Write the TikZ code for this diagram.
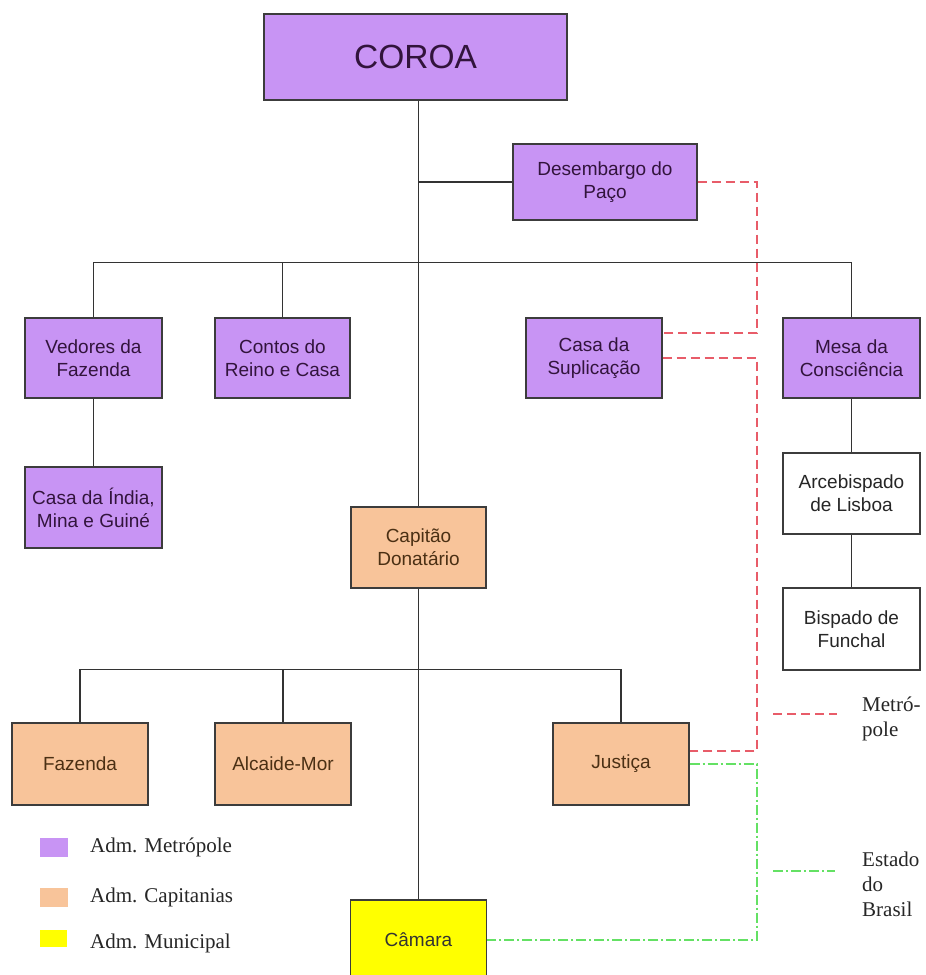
\documentclass[tikz,border=0pt]{standalone}
\usepackage{fontspec}
\setmainfont{Liberation Serif}
\setsansfont{Liberation Sans}
\usetikzlibrary{calc}
\definecolor{purp}{RGB}{200,148,244}
\definecolor{peach}{RGB}{248,196,154}
\definecolor{yel}{RGB}{255,255,0}
\definecolor{bord}{RGB}{60,60,60}
\definecolor{ptext}{RGB}{50,20,60}
\definecolor{otext}{RGB}{75,48,20}
\definecolor{reddash}{RGB}{232,92,105}
\definecolor{greendash}{RGB}{100,225,100}
\tikzset{
  box/.style={draw=bord, line width=1.4pt, rectangle, align=center, inner sep=0pt,
    font=\sffamily\fontsize{19}{23}\selectfont},
  pbox/.style={box, fill=purp, text=ptext},
  obox/.style={box, fill=peach, text=otext},
  wbox/.style={box, fill=white, text=black!85},
  ybox/.style={box, fill=yel, text=black!80},
  conn/.style={draw=black!80, line width=1.5pt},
  redline/.style={draw=reddash, line width=1.8pt, dash pattern=on 9pt off 5pt},
  greenline/.style={draw=greendash, line width=1.6pt, dash pattern=on 10pt off 3pt on 2pt off 3pt},
  legtext/.style={font=\fontsize{21}{25}\selectfont, text=black!85, inner sep=0pt, align=left},
}
\begin{document}
\begin{tikzpicture}[x=1pt, y=-1pt]
\useasboundingbox[fill=white] (0,0) rectangle (926,975);

% nodes
\node[pbox, minimum width=303pt, minimum height=86pt, font=\sffamily\fontsize{33.5}{38}\selectfont] (coroa) at (415.5,57) {COROA};
\node[pbox, minimum width=184pt, minimum height=76pt] (desemb) at (605,182) {Desembargo do\\Paço};
\node[pbox, minimum width=137pt, minimum height=80pt] (vedores) at (93.5,358) {Vedores da\\Fazenda};
\node[pbox, minimum width=135pt, minimum height=80pt] (contos) at (282.5,358) {Contos do\\Reino e Casa};
\node[pbox, minimum width=136pt, minimum height=80pt] (supl) at (594,358) {Casa da\\Suplicação};
\node[pbox, minimum width=137pt, minimum height=80pt] (mesa) at (851.5,358) {Mesa da\\Consciência};
\node[pbox, minimum width=137pt, minimum height=81pt] (india) at (93.5,507.5) {Casa da Índia,\\Mina e Guiné};
\node[wbox, minimum width=137pt, minimum height=81pt] (arce) at (851.5,493.5) {Arcebispado\\de Lisboa};
\node[wbox, minimum width=137pt, minimum height=82pt] (bisp) at (851.5,629) {Bispado de\\Funchal};
\node[obox, minimum width=135pt, minimum height=81pt] (cap) at (418.5,547.5) {Capitão\\Donatário};
\node[obox, minimum width=136pt, minimum height=82pt] (faz) at (80,764) {Fazenda};
\node[obox, minimum width=136pt, minimum height=82pt] (alc) at (283,764) {Alcaide-Mor};
\node[obox, minimum width=136pt, minimum height=82pt] (just) at (621,764) {Justiça};
\node[ybox, minimum width=136pt, minimum height=80pt] (camara) at (418.5,940) {Câmara};

% tree connectors
\draw[conn] (coroa.south -| cap.north) -- (cap.north);
\draw[conn] (cap.south) -- (camara.north);
\draw[conn] (desemb.west) -- (desemb.west -| cap.north);
\draw[conn] (vedores.north) -- ++(0,-55) -| (mesa.north);
\draw[conn] (contos.north) -- ++(0,-55);
\draw[conn] (vedores.south) -- (india.north);
\draw[conn] (mesa.south) -- (arce.north);
\draw[conn] (arce.south) -- (bisp.north);
\draw[conn] (faz.north) -- ++(0,-53) -| (just.north);
\draw[conn] (alc.north) -- ++(0,-53);

% dashed relations
\coordinate (rA) at (757,333);
\coordinate (rB) at (757,751);
\coordinate (gA) at (757,940);
\draw[redline] (desemb.east) -| (rA) -- ($(supl.east)+(0,-25)$);
\draw[redline] (supl.east) -| (rB) -- ($(just.east)+(0,-13)$);
\draw[greenline] (just.east) -| (gA) -- (camara.east);

% legend (lines)
\coordinate (lr1) at (773,714);
\coordinate (lr2) at (837,714);
\draw[redline] (lr1) -- (lr2);
\node[legtext, anchor=north west] (lmet) at (862,697) {Metró-\\pole};
\coordinate (lg1) at (773,871);
\coordinate (lg2) at (835,871);
\draw[greenline] (lg1) -- (lg2);
\node[legtext, anchor=north west] (lest) at (862,852) {Estado\\do\\Brasil};

% legend (colours)
\node[fill=purp, minimum width=28pt, minimum height=19pt, inner sep=0pt] (sq1) at (54,847.5) {};
\node[fill=peach, minimum width=28pt, minimum height=19pt, inner sep=0pt] (sq2) at (54,897.5) {};
\node[fill=yel, minimum width=27pt, minimum height=17pt, inner sep=0pt] (sq3) at (53.5,938.5) {};
\node[legtext, anchor=west] (t1) at (90,847) {Adm. Metrópole};
\node[legtext, anchor=west] (t2) at (90,897) {Adm. Capitanias};
\node[legtext, anchor=west] (t3) at (90,943) {Adm. Municipal};
\end{tikzpicture}
\end{document}
